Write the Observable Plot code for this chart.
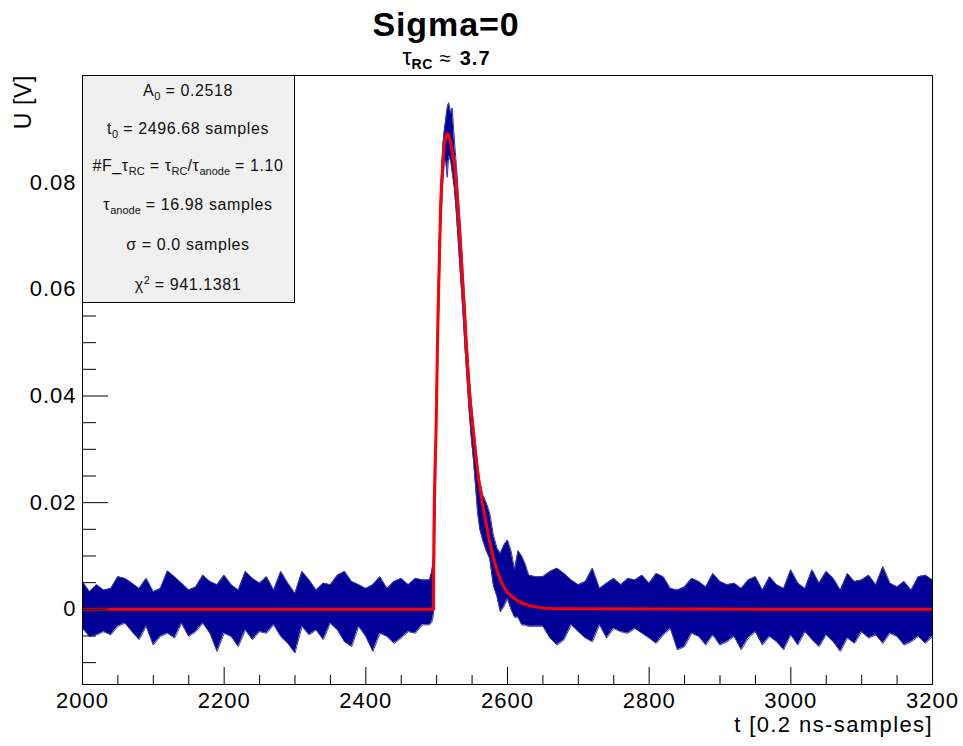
<!DOCTYPE html>
<html><head><meta charset="utf-8">
<script src="https://cdn.jsdelivr.net/npm/d3@7"></script>
<script src="https://cdn.jsdelivr.net/npm/@observablehq/plot@0.6"></script>
<style>
body{margin:0;background:#fff;}
#wrap{position:relative;width:963px;height:746px;font-family:"Liberation Sans",Arial,Helvetica,sans-serif;color:#000;overflow:hidden;}
#wrap svg{position:absolute;left:0;top:0;}
.abs{position:absolute;white-space:nowrap;line-height:1;}
.stat{position:absolute;left:82px;width:212px;text-align:center;font-size:16px;letter-spacing:0.6px;line-height:1;white-space:nowrap;color:#111;}
.sb{position:relative;top:4px;font-size:11px;letter-spacing:0;}
.sp{position:relative;top:-6px;font-size:11px;letter-spacing:0;}
</style></head>
<body><div id="wrap"></div>
<script>
// ---- noise envelope of the measured trace (mV), one reading per 10 samples ----
const leftStart = 2000, binSize = 10;
const leftHi_mV = [5.2,3.3,4.6,3.6,3.9,6.1,5.8,4.9,3.9,5.8,
  3.3,3.9,7.2,6.1,4.9,3.6,4.2,6.4,5.2,4.6,
  6.4,4.6,3.6,7.1,5.8,4.9,6.1,3.6,7.1,4.9,
  3.0,7.1,5.5,3.6,4.9,4.6,6.4,7.1,5.2,4.6,
  3.9,4.6,6.1,3.9,5.2,5.8,4.6,5.8,5.5];
const leftLo_mV = [-3.6,-5.1,-4.8,-4.2,-4.8,-3.2,-2.6,-4.2,-5.7,-3.2,
  -6.7,-5.1,-4.5,-5.4,-2.6,-5.1,-4.2,-2.6,-4.5,-7.9,
  -4.5,-5.1,-7.0,-3.9,-5.7,-4.2,-4.5,-2.9,-5.1,-6.4,
  -8.2,-3.2,-4.8,-3.9,-5.7,-2.6,-3.9,-6.1,-7.0,-3.2,
  -5.1,-7.9,-4.5,-5.1,-6.4,-5.4,-4.2,-4.5,-2.9];
const rightStart = 2650;
const rightHi_mV = [6.1,7.1,7.7,6.7,5.5,4.6,5.2,7.7,3.9,4.9,
  5.8,4.6,5.8,5.5,6.4,4.9,6.7,6.1,3.9,3.6,
  4.2,5.8,5.2,4.2,6.7,5.2,4.6,4.9,3.9,5.5,
  6.1,3.6,6.1,4.6,3.9,7.4,4.9,3.9,7.4,4.9,
  7.1,5.8,3.6,6.7,5.2,5.5,6.4,4.6,8.0,4.9,
  4.2,5.2,3.6,6.1,6.4,5.5];
const rightLo_mV = [-3.2,-5.4,-6.7,-5.7,-2.9,-4.2,-5.4,-6.1,-2.9,-5.4,
  -3.6,-4.2,-4.5,-3.6,-4.5,-5.4,-6.4,-4.8,-3.6,-7.6,
  -7.0,-4.5,-5.1,-6.7,-4.8,-6.7,-6.1,-5.1,-7.6,-5.4,
  -4.2,-6.7,-5.1,-6.1,-7.6,-4.8,-6.7,-4.2,-5.7,-7.0,
  -4.8,-6.1,-7.9,-5.4,-6.4,-4.2,-5.4,-4.8,-6.4,-4.5,
  -5.1,-6.7,-6.1,-5.1,-6.4,-5.1];
// ---- measured trace around the pulse (sample, upper, lower in mV) ----
const pulseT = [2490,2493,2495,2496,2497,2499.4,2501.7,2503.5,2505.5,2508.7,2511,2513,2515,2517,2520,2522,2525,2528,2531,2534,2537,2540,2543,2546,2549,2552,2555,2558,2561,2565,2570,2575,2580,2585,2590,2595,2600,2605,2610,2615,2620,2625,2630,2640];
const pulseHi_mV = [5.5,7,9,12,22,40,58,68,78,87,90,92,94,95,93,94,88,83,77,71,64,57,50,44,39,35,31,27,24,21.5,20,18,14,11.5,10.5,12,13,11,7.5,11,10,8.5,6.4,6.1];
const pulseLo_mV = [-2.9,-2.5,-1.5,0,8,30,48,58,70,80,84,84,81,85,84,82,79,74,68,62,56,49,43,37,32,28,23,18,15,13,11,9.5,4.5,2.5,-0.5,0.5,2,0,-1.5,-1.5,-2.9,-3,-3.2,-3.2];
// ---- fit curve (sample, mV) ----
const fitT = [2000,2495.5,2496,2499.4,2501.7,2505.5,2508.7,2512,2515,2518,2521,2525.3,2529.5,2534,2540,2546,2552.5,2559.5,2569,2578.4,2590,2609,2637,2666,3200];
const fit_mV = [0,0,13,35.5,54,75.4,83.6,88,89.2,88.5,86.5,83,76,67.5,54,41,32.3,24.2,16.7,10.5,5.5,2.1,0.5,0.1,0];
// ---- axes ----
const xMajor = [2000,2200,2400,2600,2800,3000,3200];
const xMinor = [2050,2100,2150,2250,2300,2350,2450,2500,2550,2650,2700,2750,2850,2900,2950,3050,3100,3150];
const yMajor = [0,0.02,0.04,0.06,0.08];
const yMinor = [-0.01,-0.005,0.005,0.01,0.015,0.025,0.03,0.035,0.045,0.05,0.055,0.065,0.07,0.075,0.085,0.09,0.095];

const trace = [
  ...leftHi_mV.map((hi, i) => ({t: leftStart + binSize * i, hi, lo: leftLo_mV[i]})),
  ...pulseT.map((t, i) => ({t, hi: pulseHi_mV[i], lo: pulseLo_mV[i]})),
  ...rightHi_mV.map((hi, i) => ({t: rightStart + binSize * i, hi, lo: rightLo_mV[i]}))
];
const fit = fitT.map((t, i) => ({t, v: fit_mV[i]}));
const BLUE = "#000099";

const chart = Plot.plot({
  width: 963, height: 746,
  marginLeft: 82, marginRight: 31, marginTop: 75, marginBottom: 62,
  x: {domain: [2000, 3200]},
  y: {domain: [-0.0141, 0.1001]},
  style: {fontFamily: '"Liberation Sans", Arial, sans-serif', fontSize: "22px", letterSpacing: "1px", color: "black", background: "transparent", overflow: "visible"},
  marks: [
    Plot.areaY(trace, {x: "t", y1: d => d.lo / 1000, y2: d => d.hi / 1000, fill: BLUE, clip: true}),
    Plot.line(trace, {x: "t", y: d => d.hi / 1000, stroke: "#3a3aa8", strokeWidth: 1, clip: true}),
    Plot.line(trace, {x: "t", y: d => d.lo / 1000, stroke: "#3a3aa8", strokeWidth: 1, clip: true}),
    Plot.line(fit, {x: "t", y: d => d.v / 1000, stroke: "#ff0000", strokeWidth: 3, curve: "monotone-x", clip: true}),
    Plot.frame({stroke: "black", strokeWidth: 1}),
    Plot.axisX({ticks: xMajor, tickSize: 0, tickPadding: 8, tickFormat: d => String(d), label: null}),
    Plot.axisX({ticks: xMajor, tickSize: -17, text: null, label: null}),
    Plot.axisX({ticks: xMinor, tickSize: -9, text: null, label: null}),
    Plot.axisY({ticks: yMajor, tickSize: 0, tickPadding: 6, tickFormat: d => String(d), label: null}),
    Plot.axisY({ticks: yMajor, tickSize: -26, text: null, label: null}),
    Plot.axisY({ticks: yMinor, tickSize: -14, text: null, label: null})
  ]
});

const wrap = document.getElementById("wrap");
wrap.appendChild(chart);

function add(html, css, cls) {
  const d = document.createElement("div");
  d.className = cls || "abs";
  d.innerHTML = html;
  Object.assign(d.style, css);
  wrap.appendChild(d);
  return d;
}
// title & subtitle
add("Sigma=0", {left: "0px", width: "892px", top: "6.7px", textAlign: "center", fontSize: "34px", fontWeight: "bold", letterSpacing: "0.9px"});
add('<span style="font-weight:normal;font-size:23px">τ</span><span style="position:relative;top:4px;font-size:14px;font-weight:bold;letter-spacing:0.5px">RC</span>' +
    '<span style="font-weight:normal;margin:0 9px 0 7px">≈</span><span style="letter-spacing:1px">3.7</span>',
  {left: "0px", width: "893px", top: "45.5px", textAlign: "center", fontSize: "20px", fontWeight: "bold"});
// stats box
add("", {left: "82px", top: "75px", width: "213px", height: "228px", background: "#f0f0f0", border: "1px solid #000", boxSizing: "border-box"});
const statLines = [
  'A<span class="sb">0</span> = 0.2518',
  't<span class="sb">0</span> = 2496.68 samples',
  '#F_τ<span class="sb">RC</span> = τ<span class="sb">RC</span>/τ<span class="sb">anode</span> = 1.10',
  'τ<span class="sb">anode</span> = 16.98 samples',
  'σ = 0.0 samples',
  'χ<span class="sp">2</span> = 941.1381'
];
const statBaselines = [96.5, 134.3, 171.7, 210.7, 250.7, 290];
statLines.forEach((s, i) => add(s, {top: (statBaselines[i] - 13.5) + "px"}, "stat"));
// axis titles
add("t [0.2 ns-samples]", {right: "30px", top: "714px", fontSize: "22px", letterSpacing: "1.4px"});
add("U [V]", {left: "12.2px", top: "275px", width: "200px", textAlign: "right", fontSize: "23px", letterSpacing: "0.6px", transformOrigin: "0 0", transform: "rotate(-90deg)"});
</script></body></html>
